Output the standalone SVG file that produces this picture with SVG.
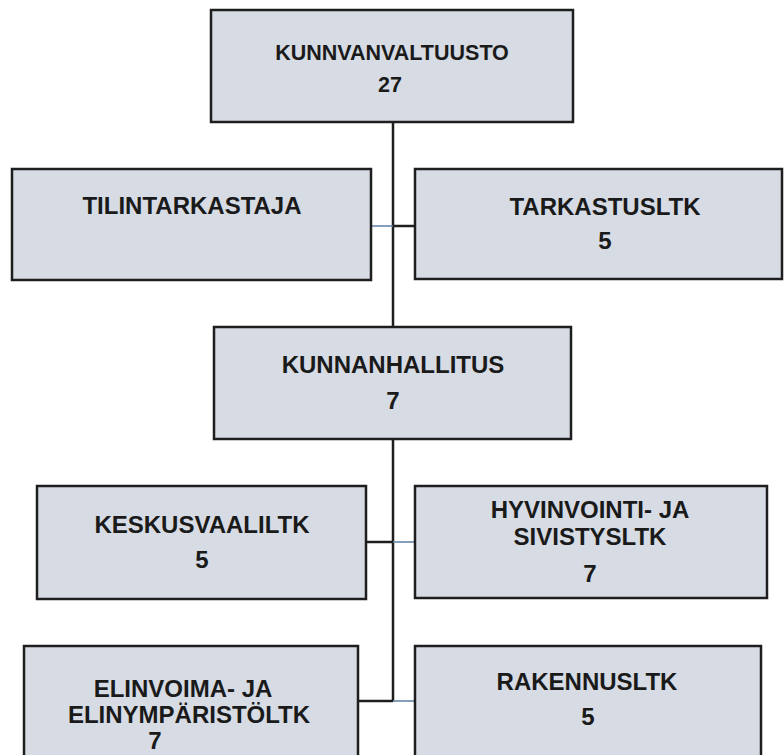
<svg xmlns="http://www.w3.org/2000/svg" width="784" height="755" viewBox="0 0 784 755">
<style>
.box{fill:#d6dbe4;stroke:#1e1e1e;stroke-width:2.5}
.t{font-family:"Liberation Sans",Arial,sans-serif;font-weight:bold;font-size:24px;fill:#1a1a1a;text-anchor:middle}
.s{font-size:21.5px}
.blk{stroke:#1e1e1e;stroke-width:2.5;fill:none}
.blu{stroke:#5b7fa6;stroke-width:1.5;fill:none}
</style>
<rect width="784" height="755" fill="#ffffff"/>
<g id="connectors">
<line class="blk" x1="393" y1="122" x2="393" y2="327"/>
<line class="blk" x1="393" y1="439" x2="393" y2="701"/>
<line class="blu" x1="371" y1="226" x2="393" y2="226"/>
<line class="blk" x1="393" y1="226" x2="415" y2="226"/>
<line class="blk" x1="366" y1="542" x2="393" y2="542"/>
<line class="blu" x1="393" y1="542" x2="415" y2="542"/>
<line class="blk" x1="358" y1="701" x2="393" y2="701"/>
<line class="blu" x1="393" y1="701" x2="415" y2="701"/>
</g>
<g id="kunnanvaltuusto">
<rect class="box" x="211" y="10" width="362" height="112"/>
<text class="t s" x="392" y="60">KUNNVANVALTUUSTO</text>
<text class="t s" x="390" y="92">27</text>
</g>
<g id="tilintarkastaja">
<rect class="box" x="12" y="169" width="359" height="111"/>
<text class="t" x="192" y="214">TILINTARKASTAJA</text>
</g>
<g id="tarkastusltk">
<rect class="box" x="415" y="169" width="367" height="110"/>
<text class="t" x="605" y="215">TARKASTUSLTK</text>
<text class="t" x="605" y="249">5</text>
</g>
<g id="kunnanhallitus">
<rect class="box" x="214" y="327" width="357" height="112"/>
<text class="t" x="393" y="373">KUNNANHALLITUS</text>
<text class="t" x="393" y="409">7</text>
</g>
<g id="keskusvaaliltk">
<rect class="box" x="37" y="486" width="329" height="113"/>
<text class="t" x="202" y="533">KESKUSVAALILTK</text>
<text class="t" x="202" y="568">5</text>
</g>
<g id="hyvinvointi">
<rect class="box" x="415" y="486" width="352" height="112"/>
<text class="t" x="590" y="518">HYVINVOINTI- JA</text>
<text class="t" x="590" y="545">SIVISTYSLTK</text>
<text class="t" x="590" y="582">7</text>
</g>
<g id="elinvoima">
<rect class="box" x="24" y="646" width="334" height="120"/>
<text class="t" x="183" y="697">ELINVOIMA- JA</text>
<text class="t" x="189" y="723">ELINYMPÄRISTÖLTK</text>
<text class="t" x="155" y="749">7</text>
</g>
<g id="rakennusltk">
<rect class="box" x="415" y="646" width="346" height="120"/>
<text class="t" x="587" y="690">RAKENNUSLTK</text>
<text class="t" x="588" y="725">5</text>
</g>
</svg>
